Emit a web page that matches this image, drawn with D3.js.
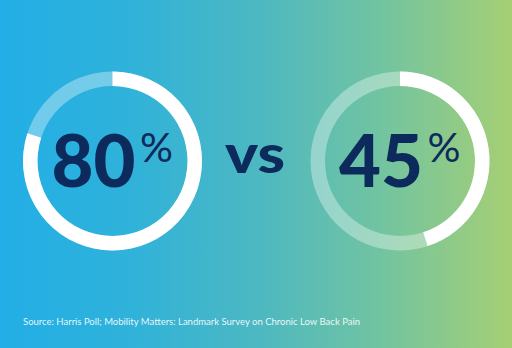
<!DOCTYPE html>
<html><head><meta charset="utf-8">
<script src="https://cdn.jsdelivr.net/npm/d3@7"></script>
<style>html,body{margin:0;padding:0;overflow:hidden;}</style>
</head><body>
<script>
const categories = ["Group A", "Group B"];
const percentValues = [80, 45];
const separatorLabel = "vs";
const sourceText = "Source: Harris Poll; Mobility Matters: Landmark Survey on Chronic Low Back Pain";

const W = 512, H = 348;
const svg = d3.select("body").append("svg").attr("width", W).attr("height", H);
const defs = svg.append("defs");
const grad = defs.append("linearGradient").attr("id", "bg").attr("x1", 0).attr("x2", 1).attr("y1", 0).attr("y2", 0);
grad.append("stop").attr("offset", "0%").attr("stop-color", "#22aee6");
grad.append("stop").attr("offset", "25%").attr("stop-color", "#2fb2da");
grad.append("stop").attr("offset", "50%").attr("stop-color", "#4cb8c2");
grad.append("stop").attr("offset", "75%").attr("stop-color", "#73c4a0");
grad.append("stop").attr("offset", "100%").attr("stop-color", "#a6cf74");
svg.append("rect").attr("width", W).attr("height", H).attr("fill", "url(#bg)");

const x = d3.scalePoint().domain(categories).range([112.5, 400]);
const angle = d3.scaleLinear().domain([0, 100]).range([0, 2 * Math.PI]);
const cy = 161;
const arc = d3.arc().innerRadius(75).outerRadius(89.5);

const g = svg.selectAll("g.ring").data(categories).join("g")
  .attr("class", "ring")
  .attr("transform", d => `translate(${x(d)},${cy})`);

g.append("path")
  .attr("d", arc({startAngle: 0, endAngle: 2 * Math.PI}))
  .attr("fill", "#fff").attr("fill-opacity", 0.35);
g.append("path")
  .attr("d", (d, i) => arc({startAngle: 0, endAngle: angle(percentValues[i])}))
  .attr("fill", "#fff");

const font = "Lato, 'Open Sans', sans-serif";
const navy = "#0c2a5b";
g.append("text")
  .attr("x", -61).attr("y", 26)
  .attr("font-family", font).attr("font-weight", 900)
  .attr("font-size", 72).attr("fill", navy)
  .attr("textLength", 84).attr("lengthAdjust", "spacingAndGlyphs")
  .text((d, i) => percentValues[i]);
g.append("text")
  .attr("x", 27.5)
  .attr("y", 0.5)
  .attr("font-family", font).attr("font-weight", 400)
  .attr("font-size", 40).attr("fill", navy)
  .attr("textLength", 33).attr("lengthAdjust", "spacingAndGlyphs")
  .text("%");

svg.append("text")
  .attr("x", 255).attr("y", 173)
  .attr("text-anchor", "middle")
  .attr("font-family", font).attr("font-weight", 900)
  .attr("font-size", 54).attr("fill", navy)
  .attr("textLength", 60).attr("lengthAdjust", "spacingAndGlyphs")
  .text(separatorLabel);

svg.append("text")
  .attr("x", 23).attr("y", 325)
  .attr("font-family", font).attr("font-weight", 400)
  .attr("font-size", 9.5).attr("fill", "#ffffff").attr("fill-opacity", 0.9)
  .attr("textLength", 337).attr("lengthAdjust", "spacingAndGlyphs")
  .text(sourceText);
</script>
</body></html>
